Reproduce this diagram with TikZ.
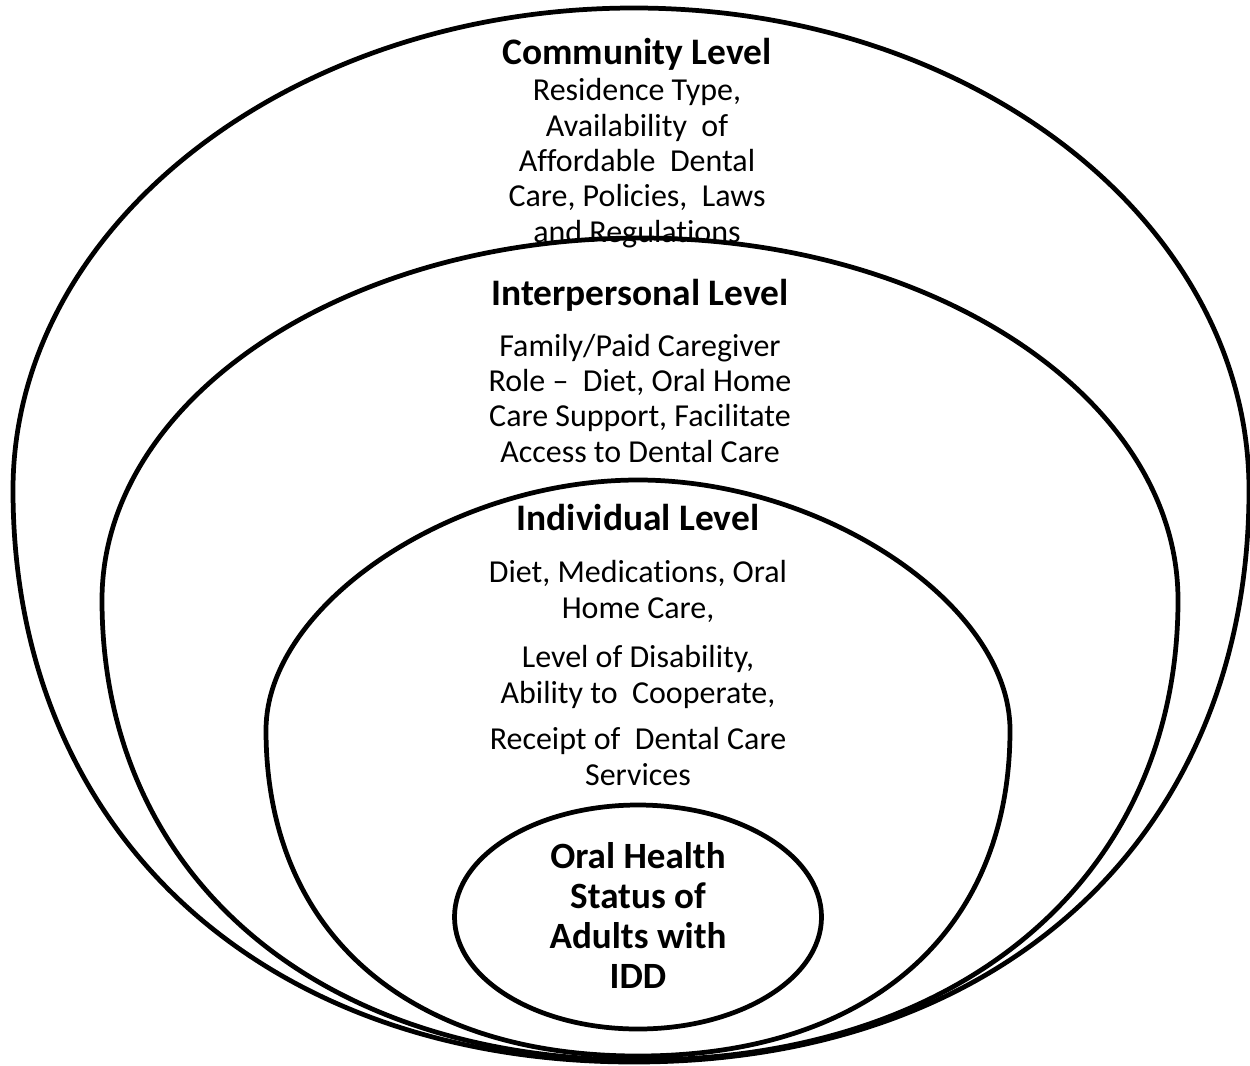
\documentclass[tikz,border=0pt]{standalone}
\usepackage{fontspec}
\setmainfont{Carlito}[Ligatures=NoCommon]
\begin{document}
\begin{tikzpicture}[x=0.02cm,y=-0.02cm,line width=2.7pt,
  level/.style={font=\bfseries\fontsize{21.3}{25}\selectfont,inner sep=0pt,anchor=base},
  factors/.style={font=\fontsize{18.2}{20.1}\selectfont,align=center,inner sep=0pt,anchor=base},
  outcome/.style={font=\bfseries\fontsize{21.1}{22.7}\selectfont,align=center,inner sep=0pt,anchor=base}]
\useasboundingbox (0,0) rectangle (1250,1065);
% community level
\draw (13,490) .. controls (13,224) and (293,8) .. (634,8)
  .. controls (975,8) and (1249,224) .. (1249,490)
  .. controls (1249,833) and (1005,1062) .. (634,1062)
  .. controls (263,1062) and (13,833) .. (13,490) -- cycle;
% interpersonal level
\draw (102,600) .. controls (102,400) and (343,238) .. (640,238)
  .. controls (937,238) and (1178,400) .. (1178,600)
  .. controls (1178,876) and (963,1060) .. (640,1060)
  .. controls (317,1060) and (102,876) .. (102,600) -- cycle;
% individual level
\draw (266,730) .. controls (266,605) and (452,480) .. (638,480)
  .. controls (824,480) and (1010,605) .. (1010,730)
  .. controls (1010,932) and (869,1056) .. (638,1056)
  .. controls (407,1056) and (266,932) .. (266,730) -- cycle;
% oral health
\draw (638,917) ellipse [x radius=183.5, y radius=112];

% texts (anchored at the baseline of their last line)
\node[level] (community) at (637,64) {Community Level};
\node[factors] (commfac) at (637,242) {Residence Type,\\Availability\ \ of\\Affordable\ \ Dental\\Care, Policies,\ \ Laws\\and Regulations};
\node[level] (interpersonal) at (640,305) {Interpersonal Level};
\node[factors] (interfac) at (640,462) {Family/Paid Caregiver\\Role --\ \ Diet, Oral Home\\Care Support, Facilitate\\Access to Dental Care};
\node[level] (individual) at (638,530) {Individual Level};
\node[factors] (indfac1) at (638,618) {Diet, Medications, Oral\\Home Care,};
\node[factors] (indfac2) at (638,703) {Level of Disability,\\Ability to\ \ Cooperate,};
\node[factors] (indfac3) at (638,785) {Receipt of\ \ Dental Care\\Services};
\node[outcome] (oral) at (638,988) {Oral Health\\Status of\\Adults with\\IDD};
\end{tikzpicture}
\end{document}
